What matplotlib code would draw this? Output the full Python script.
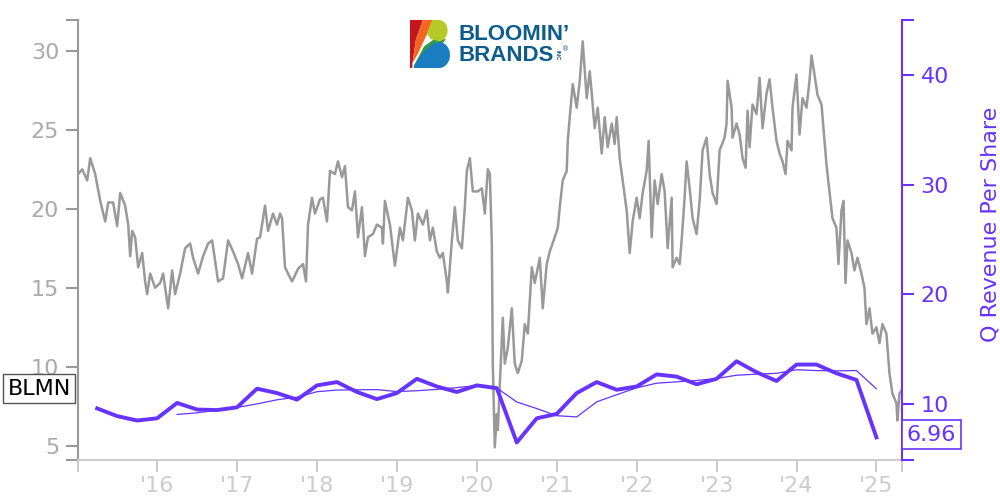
import numpy as np
import pandas as pd
import matplotlib
matplotlib.use("Agg")
import matplotlib.pyplot as plt
from matplotlib.patches import Polygon
import matplotlib.transforms as mtransforms

# daily close (decimal year, price)
price_t = [2015.013, 2015.063, 2015.125, 2015.163, 2015.225, 2015.288, 2015.350, 2015.388, 2015.450, 2015.500,
           2015.538, 2015.600, 2015.638, 2015.663, 2015.688, 2015.725, 2015.763, 2015.813, 2015.850, 2015.875,
           2015.913, 2015.975, 2016.038, 2016.075, 2016.138, 2016.188, 2016.225, 2016.288, 2016.350, 2016.413,
           2016.450, 2016.513, 2016.575, 2016.638, 2016.688, 2016.725, 2016.763, 2016.825, 2016.888, 2016.950,
           2017.013, 2017.063, 2017.138, 2017.188, 2017.250, 2017.288, 2017.350, 2017.388, 2017.450, 2017.500,
           2017.538, 2017.563, 2017.600, 2017.638, 2017.688, 2017.763, 2017.825, 2017.863, 2017.888, 2017.938,
           2017.975, 2018.038, 2018.075, 2018.125, 2018.163, 2018.225, 2018.263, 2018.313, 2018.350, 2018.388,
           2018.438, 2018.475, 2018.513, 2018.563, 2018.600, 2018.638, 2018.700, 2018.750, 2018.813, 2018.825,
           2018.850, 2018.913, 2018.975, 2019.038, 2019.075, 2019.138, 2019.188, 2019.225, 2019.263, 2019.325,
           2019.375, 2019.413, 2019.450, 2019.500, 2019.538, 2019.575, 2019.625, 2019.638, 2019.688, 2019.725,
           2019.763, 2019.813, 2019.850, 2019.875, 2019.913, 2019.950, 2020.013, 2020.063, 2020.100, 2020.138,
           2020.163, 2020.188, 2020.200, 2020.225, 2020.250, 2020.263, 2020.288, 2020.325, 2020.350, 2020.388,
           2020.438, 2020.475, 2020.513, 2020.563, 2020.600, 2020.638, 2020.688, 2020.725, 2020.788, 2020.825,
           2020.875, 2020.913, 2020.975, 2021.013, 2021.038, 2021.075, 2021.125, 2021.138, 2021.163, 2021.200,
           2021.250, 2021.288, 2021.325, 2021.375, 2021.413, 2021.438, 2021.475, 2021.513, 2021.563, 2021.600,
           2021.638, 2021.688, 2021.725, 2021.750, 2021.788, 2021.825, 2021.875, 2021.913, 2021.950, 2022.000,
           2022.038, 2022.075, 2022.125, 2022.150, 2022.188, 2022.225, 2022.263, 2022.313, 2022.350, 2022.388,
           2022.438, 2022.450, 2022.500, 2022.538, 2022.563, 2022.600, 2022.625, 2022.663, 2022.700, 2022.750,
           2022.788, 2022.825, 2022.875, 2022.913, 2022.950, 2023.000, 2023.038, 2023.100, 2023.125, 2023.138,
           2023.188, 2023.200, 2023.250, 2023.288, 2023.325, 2023.363, 2023.388, 2023.413, 2023.450, 2023.500,
           2023.538, 2023.575, 2023.625, 2023.663, 2023.700, 2023.750, 2023.788, 2023.825, 2023.863, 2023.888,
           2023.938, 2023.950, 2024.000, 2024.038, 2024.075, 2024.125, 2024.163, 2024.188, 2024.225, 2024.263,
           2024.313, 2024.350, 2024.375, 2024.413, 2024.450, 2024.500, 2024.525, 2024.563, 2024.588, 2024.613,
           2024.638, 2024.688, 2024.725, 2024.763, 2024.813, 2024.850, 2024.875, 2024.913, 2024.950, 2025.000,
           2025.038, 2025.075, 2025.125, 2025.163, 2025.200, 2025.250, 2025.263, 2025.288, 2025.313]
price = [22.2, 22.5, 21.8, 23.2, 22.2, 20.5, 19.2, 20.4, 20.4, 18.9,
         21.0, 20.2, 19.0, 17.0, 18.6, 18.2, 16.3, 17.2, 15.4, 14.6,
         15.9, 15.0, 15.3, 15.9, 13.7, 16.1, 14.6, 15.9, 17.5, 17.8,
         16.9, 15.9, 17.0, 17.8, 18.0, 16.7, 15.4, 15.6, 18.0, 17.3,
         16.5, 15.6, 17.2, 15.9, 18.1, 18.2, 20.2, 18.6, 19.7, 19.0,
         19.7, 19.4, 16.3, 15.9, 15.4, 16.2, 16.5, 15.4, 19.0, 20.7,
         19.7, 20.6, 20.7, 19.2, 22.4, 22.2, 23.0, 22.0, 22.7, 20.1,
         19.9, 21.1, 18.2, 20.1, 17.0, 18.2, 18.4, 19.0, 18.8, 17.8,
         20.5, 19.0, 16.4, 18.8, 18.0, 20.7, 19.9, 18.0, 19.7, 19.0,
         19.9, 18.0, 18.8, 17.3, 16.9, 17.2, 15.4, 14.7, 18.0, 20.1,
         18.0, 17.5, 20.1, 22.4, 23.2, 21.1, 21.1, 21.3, 19.7, 22.5,
         22.2, 17.8, 10.2, 4.9, 7.0, 6.0, 8.9, 13.1, 10.2, 11.2,
         13.7, 10.2, 9.6, 10.4, 12.7, 12.1, 16.3, 15.3, 16.9, 13.7,
         16.5, 17.3, 18.2, 18.8, 20.1, 21.8, 22.4, 24.3, 25.8, 27.9,
         26.4, 28.1, 30.6, 27.0, 28.7, 27.3, 25.1, 26.4, 23.5, 25.8,
         23.9, 25.4, 24.1, 25.8, 23.2, 21.8, 19.9, 17.2, 19.2, 20.7,
         19.4, 21.0, 22.4, 24.3, 18.2, 21.8, 20.3, 22.2, 21.1, 17.5,
         20.7, 16.3, 16.9, 16.5, 18.0, 20.7, 23.0, 21.3, 19.4, 18.4,
         20.5, 23.7, 24.5, 22.2, 21.0, 20.3, 23.7, 24.5, 25.4, 28.1,
         26.4, 24.5, 25.4, 24.7, 23.2, 22.6, 26.2, 23.9, 26.6, 26.0,
         28.3, 25.1, 27.3, 28.2, 26.4, 24.3, 23.5, 23.0, 22.2, 24.3,
         23.7, 26.4, 28.5, 24.7, 27.0, 26.4, 28.1, 29.7, 28.5, 27.2,
         26.6, 24.3, 22.8, 21.1, 19.4, 18.8, 16.5, 19.9, 20.5, 15.3,
         18.0, 17.2, 16.1, 16.9, 15.9, 15.0, 12.7, 13.7, 12.1, 12.5,
         11.5, 12.7, 12.1, 9.6, 8.3, 7.7, 6.6, 8.3, 8.5]

# quarterly revenue per share, 2015Q1 .. 2024Q4
quarters = pd.period_range("2015Q1", "2024Q4", freq="Q")
rev_ps = [9.6, 8.9, 8.5, 8.7, 10.1, 9.5, 9.45, 9.7, 11.4, 11.0,
          10.4, 11.7, 12.0, 11.1, 10.45, 11.0, 12.3, 11.6, 11.1, 11.7,
          11.45, 6.5, 8.7, 9.1, 11.0, 12.0, 11.3, 11.6, 12.7, 12.5,
          11.8, 12.3, 13.9, 12.9, 12.1, 13.6, 13.6, 12.8, 12.2, 6.96]

year_ticks = [2016, 2017, 2018, 2019, 2020, 2021, 2022, 2023, 2024, 2025]
year_labels = ["'16", "'17", "'18", "'19", "'20", "'21", "'22", "'23", "'24", "'25"]

purple = "#6633ff"
gray = "#999999"

rev_t = quarters.year + quarters.quarter / 4.0
rev_avg = pd.Series(rev_ps).rolling(4).mean()

fig = plt.figure(figsize=(10, 5), dpi=100)
ax = fig.add_axes([0.078, 0.08, 0.824, 0.88])
ax2 = ax.twinx()

ax.plot(price_t, price, color=gray, lw=1.8, zorder=2)
ax2.plot(rev_t, rev_ps, color=purple, lw=2.8)
ax2.plot(rev_t[4:], rev_avg[4:], color=purple, lw=0.9)

x0, x1 = 2015.01, 2025.32
ax.set_xlim(x0, x1)
ax.set_ylim(4.1, 31.95)
ax2.set_ylim(4.9, 45.0)

for a in (ax, ax2):
    a.spines["top"].set_visible(False)
ax.spines["right"].set_visible(False)
ax2.spines["left"].set_visible(False)
ax.spines["left"].set_color(gray)
ax.spines["left"].set_linewidth(1.5)
ax.spines["bottom"].set_color("#cccccc")
ax.spines["bottom"].set_linewidth(1.5)
ax2.spines["bottom"].set_visible(False)
ax2.spines["right"].set_color(purple)
ax2.spines["right"].set_linewidth(1.5)

ax.set_xticks(year_ticks)
ax.set_xticklabels(year_labels)
ax.set_xticks([x0, x1], minor=True)
ax.tick_params(axis="x", which="both", colors="#cccccc", labelcolor="#cccccc",
               length=8.5, width=1.5, labelsize=16, pad=3)

ax.set_yticks([5, 10, 15, 20, 25, 30])
ax.set_yticks([4.1, 31.95], minor=True)
ax.tick_params(axis="y", which="both", colors=gray, labelcolor="#aaaaaa",
               length=8.5, width=1.5, labelsize=16, pad=5)

ax2.set_yticks([10, 20, 30, 40])
ax2.set_yticks([4.9, 45.0], minor=True)
ax2.tick_params(axis="y", which="both", colors=purple, labelcolor=purple,
                length=8.5, width=1.5, labelsize=16, pad=5)
ax2.set_ylabel("Q Revenue Per Share", color=purple, fontsize=16)
ax2.yaxis.set_label_coords(1.095, 0.536)

# ticker tag on the left, last value tag on the right
trans_l = mtransforms.blended_transform_factory(ax.transAxes, ax.transData)
ax.text(-0.0085, price[-1] + 0.1, "BLMN", transform=trans_l, ha="right", va="center",
        fontsize=16, color="black", clip_on=False,
        bbox=dict(boxstyle="square,pad=0.2", fc="white", ec="#555555", lw=1))
trans_r = mtransforms.blended_transform_factory(ax2.transAxes, ax2.transData)
ax2.text(1.006, rev_ps[-1] + 0.25, f"{rev_ps[-1]:.2f}", transform=trans_r, ha="left", va="center",
         fontsize=16, color=purple, clip_on=False,
         bbox=dict(boxstyle="square,pad=0.2", fc="white", ec=purple, lw=1.2))

# logo: coloured "B" mark plus wordmark
logo = fig.add_axes([0.410, 0.864, 0.040, 0.096])
logo.set_xlim(0, 1)
logo.set_ylim(0, 1)
logo.axis("off")


def bowl(cx, cy, r, start, stop):
    a = np.linspace(np.radians(start), np.radians(stop), 20)
    return list(zip(cx + r * np.cos(a), cy + r * np.sin(a)))


red = [(0.0, 0.0), (0.0, 1.0), (0.32, 1.0), (0.15, 0.6), (0.06, 0.1), (0.06, 0.0)]
orange = [(0.06, 0.1), (0.15, 0.6), (0.32, 1.0), (0.6, 1.0), (0.4, 0.66), (0.2, 0.3)]
green = [(0.08, 0.02), (0.35, 0.45), (0.6, 0.6), (0.9, 0.6), (0.75, 0.45), (0.4, 0.3)]
yellow = [(0.55, 1.0)] + bowl(0.72, 0.78, 0.22, 90, -90) + [(0.52, 0.6), (0.42, 0.72)]
blue = [(0.1, 0.0)] + bowl(0.73, 0.27, 0.27, -90, 90) + [(0.55, 0.5), (0.3, 0.3), (0.1, 0.05)]
for pts, col in [(red, "#c4161c"), (orange, "#f26522"), (green, "#3b9a3d"),
                 (yellow, "#b5c928"), (blue, "#1a7dc2")]:
    logo.add_patch(Polygon(pts, closed=True, fc=col, ec="none"))

logo_blue = "#0c5c8c"
fig.text(0.458, 0.930, "BLOOMIN\u2019", fontsize=16, fontweight="bold", color=logo_blue,
         family="Liberation Sans", ha="left", va="center")
fig.text(0.458, 0.889, "BRANDS", fontsize=16, fontweight="bold", color=logo_blue,
         family="Liberation Sans", ha="left", va="center")
fig.text(0.557, 0.889, "INC", fontsize=4.5, fontweight="bold", color=logo_blue,
         family="Liberation Sans", ha="center", va="center", rotation=-90)
fig.text(0.566, 0.902, "\u00ae", fontsize=5, color=logo_blue, ha="center", va="center")

fig.savefig("out.png", dpi=100)
